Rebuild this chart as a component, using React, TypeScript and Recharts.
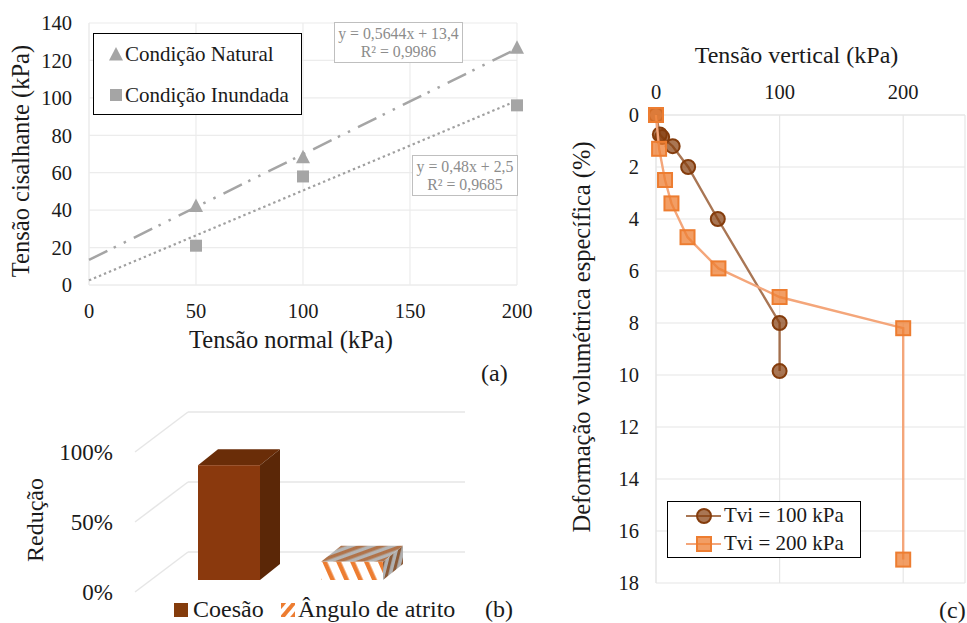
import React from "react";
import {
  ScatterChart,
  Scatter,
  BarChart,
  Bar,
  XAxis,
  YAxis,
  CartesianGrid,
  Legend,
} from "recharts";

const FONT = "'Liberation Serif', 'Times New Roman', serif";
const GRID = "#e6e6e6";
const TEXT = "#1a1a1a";

// (a) shear envelope
const naturalPoints = [
  { x: 50, y: 42 },
  { x: 100, y: 68 },
  { x: 200, y: 126.5 },
];
const floodedPoints = [
  { x: 50, y: 21 },
  { x: 100, y: 58 },
  { x: 200, y: 96 },
];
const naturalTrend = [
  { x: 0, y: 13.4 },
  { x: 200, y: 126.3 },
];
const floodedTrend = [
  { x: 0, y: 2.5 },
  { x: 200, y: 98.5 },
];
const shearXTicks = [0, 50, 100, 150, 200];
const shearYTicks = [0, 20, 40, 60, 80, 100, 120, 140];

// (b) reduction
const reductionNames = ["Coesão", "Ângulo de atrito"];
const reductionValues = [82, 13];
const reductionTicks = [0, 50, 100];
const reductionData = reductionNames.map((name, i) => ({ name, value: reductionValues[i] }));

// (c) collapse curves
const tvi100 = [
  { x: 0, y: 0 },
  { x: 3.1, y: 0.75 },
  { x: 5, y: 0.85 },
  { x: 13.5, y: 1.2 },
  { x: 26, y: 2 },
  { x: 50, y: 4 },
  { x: 100, y: 8 },
  { x: 100, y: 9.85 },
];
const tvi200 = [
  { x: 0, y: 0 },
  { x: 2.5, y: 1.3 },
  { x: 7.3, y: 2.5 },
  { x: 12.5, y: 3.4 },
  { x: 25.5, y: 4.7 },
  { x: 50.5, y: 5.9 },
  { x: 100, y: 7 },
  { x: 200, y: 8.2 },
  { x: 200, y: 17.1 },
];
const verticalXTicks = [0, 100, 200];
const verticalYTicks = [0, 2, 4, 6, 8, 10, 12, 14, 16, 18];

const tickStyle = { fontFamily: FONT, fontSize: 20.5, fill: TEXT };
const axisLabelStyle = { fontFamily: FONT, fontSize: 24, fill: TEXT };

const Triangle = ({ cx, cy }: any) => (
  <path d={`M${cx} ${cy - 8}L${cx + 7} ${cy + 5.5}L${cx - 7} ${cy + 5.5}Z`} fill="#a5a5a5" />
);
const Square = ({ cx, cy }: any) => (
  <rect x={cx - 6} y={cy - 6} width={12} height={12} fill="#a5a5a5" />
);
const NoDot = () => <g />;

const BrownDot = ({ cx, cy }: any) => (
  <circle cx={cx} cy={cy} r={7} fill="#843c0c" fillOpacity={0.7} stroke="#843c0c" strokeWidth={2} />
);
const OrangeDot = ({ cx, cy }: any) => (
  <rect
    x={cx - 7}
    y={cy - 7}
    width={14}
    height={14}
    fill="#ed7d31"
    fillOpacity={0.75}
    stroke="#ed7d31"
    strokeWidth={2}
  />
);

const ShearLegend = () => (
  <div
    style={{
      width: 207,
      height: 80,
      border: "1px solid #000",
      background: "#fff",
      fontFamily: FONT,
      fontSize: 21,
      color: TEXT,
      position: "relative",
    }}
  >
    <svg width={40} height={80} style={{ position: "absolute", left: 0, top: 0 }}>
      <Triangle cx={22} cy={21} />
      <Square cx={22} cy={61} />
    </svg>
    <span style={{ position: "absolute", left: 31, top: 8, whiteSpace: "nowrap" }}>Condição Natural</span>
    <span style={{ position: "absolute", left: 31, top: 49, whiteSpace: "nowrap" }}>Condição Inundada</span>
  </div>
);

const CurveLegend = () => (
  <div
    style={{
      width: 192,
      height: 55,
      border: "1px solid #000",
      background: "#fff",
      fontFamily: FONT,
      fontSize: 21,
      color: TEXT,
      position: "relative",
    }}
  >
    <svg width={60} height={55} style={{ position: "absolute", left: 0, top: 0 }}>
      <line x1={18} x2={53} y1={14} y2={14} stroke="#843c0c" strokeOpacity={0.7} strokeWidth={2} />
      <BrownDot cx={36} cy={14} />
      <line x1={18} x2={53} y1={42} y2={42} stroke="#f4a67a" strokeWidth={2} />
      <OrangeDot cx={36} cy={42} />
    </svg>
    <span style={{ position: "absolute", left: 56, top: 1, whiteSpace: "nowrap" }}>Tvi = 100 kPa</span>
    <span style={{ position: "absolute", left: 56, top: 29, whiteSpace: "nowrap" }}>Tvi = 200 kPa</span>
  </div>
);

const ReductionLegend = () => (
  <div style={{ position: "relative", width: 300, height: 26, fontFamily: FONT, fontSize: 24, color: TEXT }}>
    <span style={{ position: "absolute", left: 0, top: 7, width: 14, height: 14, background: "#843c0c" }} />
    <span style={{ position: "absolute", left: 19, top: 0, whiteSpace: "nowrap" }}>Coesão</span>
    <svg width={14} height={14} style={{ position: "absolute", left: 107, top: 7 }}>
      <defs>
        <pattern id="legendStripe" width={8} height={8} patternUnits="userSpaceOnUse" patternTransform="rotate(40)">
          <rect width={8} height={8} fill="#fff" />
          <rect width={4} height={8} fill="#ed7d31" />
        </pattern>
      </defs>
      <rect width={14} height={14} fill="url(#legendStripe)" />
    </svg>
    <span style={{ position: "absolute", left: 124, top: 0, whiteSpace: "nowrap" }}>Ângulo de atrito</span>
  </div>
);

// fake 3D depth of the Excel column chart
const BAR_DX = 20;
const BAR_DY = 16;
const FLOOR_SHIFT = 12;

const WallLine = ({ y1 }: any) => (
  <g>
    <line x1={135} y1={y1} x2={188} y2={y1 - 40} stroke={GRID} strokeWidth={1.5} />
    <line x1={188} y1={y1 - 40} x2={465} y2={y1 - 40} stroke={GRID} strokeWidth={1.5} />
  </g>
);

const WallTick = ({ y, payload }: any) => (
  <text x={113} y={y} textAnchor="end" dominantBaseline="central" fontFamily={FONT} fontSize={23} fill={TEXT}>
    {payload.value}%
  </text>
);

const Column3D = ({ x, y, width, height, index }: any) => {
  const top = y - FLOOR_SHIFT;
  const bottom = top + height;
  const right = x + width;
  const first = index === 0;
  return (
    <g>
      <path
        d={`M${x} ${top}L${x + BAR_DX} ${top - BAR_DY}L${right + BAR_DX} ${top - BAR_DY}L${right} ${top}Z`}
        fill={first ? "#6a2d08" : "url(#stripeTop)"}
      />
      <path
        d={`M${right} ${top}L${right + BAR_DX} ${top - BAR_DY}L${right + BAR_DX} ${bottom - BAR_DY}L${right} ${bottom}Z`}
        fill={first ? "#5b2707" : "url(#stripeSide)"}
      />
      <rect x={x} y={top} width={width} height={height} fill={first ? "#8a390d" : "url(#stripeFront)"} />
    </g>
  );
};

const boxStyle: React.CSSProperties = {
  position: "absolute",
  boxSizing: "border-box",
  border: "1px solid #bfbfbf",
  background: "#fff",
  color: "#8c8c8c",
  fontFamily: FONT,
  fontSize: 15.8,
  lineHeight: "18px",
  textAlign: "center",
  paddingTop: 2,
};

const captionStyle: React.CSSProperties = {
  position: "absolute",
  fontFamily: FONT,
  fontSize: 24,
  color: TEXT,
  lineHeight: "24px",
};

export default function App() {
  return (
    <div style={{ position: "absolute", left: 0, top: 0, width: 967, height: 623, background: "#fff", overflow: "hidden" }}>
      <div style={{ position: "absolute", left: 0, top: 0 }}>
        <ScatterChart width={540} height={390} margin={{ top: 23, right: 23, bottom: 0, left: 0 }}>
          <CartesianGrid stroke="#ececec" strokeWidth={1.2} />
          <XAxis
            type="number"
            dataKey="x"
            domain={[0, 200]}
            ticks={shearXTicks}
            height={105}
            tickLine={false}
            axisLine={{ stroke: "#ececec" }}
            tick={tickStyle}
            tickMargin={12}
            label={{ value: "Tensão normal (kPa)", position: "insideTop", offset: 46, dx: -12, style: { ...axisLabelStyle, fontSize: 24.5 } }}
          />
          <YAxis
            type="number"
            dataKey="y"
            domain={[0, 140]}
            ticks={shearYTicks}
            width={89}
            tickLine={false}
            axisLine={{ stroke: "#ececec" }}
            tick={tickStyle}
            tickMargin={11}
            label={{ value: "Tensão cisalhante (kPa)", angle: -90, position: "insideLeft", offset: 20, dy: 7, style: { ...axisLabelStyle, fontSize: 24.5, textAnchor: "middle" } }}
          />
          <Scatter
            data={naturalTrend}
            line={{ stroke: "#a5a5a5", strokeWidth: 2.5, strokeDasharray: "20.5 7 2.5 8.7 2.5 8.8" }}
            shape={NoDot}
            isAnimationActive={false}
          />
          <Scatter
            data={floodedTrend}
            line={{ stroke: "#a0a0a0", strokeWidth: 2.2, strokeDasharray: "2.4 3" }}
            shape={NoDot}
            isAnimationActive={false}
          />
          <Scatter data={naturalPoints} shape={Triangle} isAnimationActive={false} />
          <Scatter data={floodedPoints} shape={Square} isAnimationActive={false} />
          <Legend
            layout="vertical"
            align="center"
            verticalAlign="middle"
            content={<ShearLegend />}
            wrapperStyle={{ left: 93, top: 33, width: 209, height: 82 }}
          />
        </ScatterChart>
      </div>
      <div style={{ ...boxStyle, left: 334, top: 22, width: 129, height: 41 }}>
        y = 0,5644x + 13,4
        <br />
        R² = 0,9986
      </div>
      <div style={{ ...boxStyle, left: 412, top: 155, width: 106, height: 41 }}>
        y = 0,48x + 2,5
        <br />
        R² = 0,9685
      </div>
      <div style={{ ...captionStyle, left: 481, top: 361 }}>(a)</div>

      <div style={{ position: "absolute", left: 0, top: 400 }}>
        <BarChart width={530} height={223} data={reductionData} margin={{ top: 52, right: 117, bottom: 31, left: 0 }}>
          <defs>
            <pattern id="stripeFront" width={12.7} height={13} patternUnits="userSpaceOnUse" patternTransform="rotate(-24)">
              <rect width={12.7} height={13} fill="#fff" />
              <rect width={4.5} height={13} fill="#ed7d31" />
            </pattern>
            <pattern id="stripeTop" width={7} height={7} patternUnits="userSpaceOnUse" patternTransform="rotate(-20)">
              <rect width={7} height={7} fill="#b5b5b5" />
              <rect width={7} height={3.5} fill="#b0734a" />
            </pattern>
            <pattern id="stripeSide" width={6.5} height={6.5} patternUnits="userSpaceOnUse" patternTransform="rotate(14)">
              <rect width={6.5} height={6.5} fill="#b0b0b0" />
              <rect width={3} height={6.5} fill="#8a5a38" />
            </pattern>
          </defs>
          <CartesianGrid vertical={false} horizontal={WallLine} />
          <XAxis dataKey="name" hide />
          <YAxis
            type="number"
            domain={[0, 100]}
            ticks={reductionTicks}
            width={167}
            axisLine={false}
            tickLine={false}
            tick={<WallTick />}
            label={{ value: "Redução", angle: -90, position: "insideLeft", offset: 34, dy: -2, style: { ...axisLabelStyle, textAnchor: "middle" } }}
          />
          <Bar dataKey="value" barSize={62} shape={<Column3D />} isAnimationActive={false} />
          <Legend
            layout="vertical"
            align="center"
            verticalAlign="middle"
            content={<ReductionLegend />}
            wrapperStyle={{ left: 174, top: 196, width: 300, height: 26 }}
          />
        </BarChart>
      </div>
      <div style={{ ...captionStyle, left: 485, top: 597 }}>(b)</div>

      <div style={{ position: "absolute", left: 560, top: 0 }}>
        <ScatterChart width={407} height={623} margin={{ top: 0, right: 2, bottom: 40, left: 0 }}>
          <CartesianGrid stroke={GRID} strokeWidth={1.2} />
          <XAxis
            type="number"
            dataKey="x"
            orientation="top"
            domain={[0, 250]}
            ticks={verticalXTicks}
            height={115}
            tickLine={false}
            axisLine={{ stroke: GRID }}
            tick={tickStyle}
            tickMargin={10}
            label={{ value: "Tensão vertical (kPa)", position: "insideTop", offset: 46, dx: -14, style: axisLabelStyle }}
          />
          <YAxis
            type="number"
            dataKey="y"
            reversed
            domain={[0, 18]}
            ticks={verticalYTicks}
            width={96}
            tickLine={false}
            axisLine={{ stroke: GRID }}
            tick={tickStyle}
            tickMargin={11}
            label={{ value: "Deformação volumétrica específica (%)", angle: -90, position: "insideLeft", offset: 21, dy: -12, style: { ...axisLabelStyle, fontSize: 24.5, textAnchor: "middle" } }}
          />
          <Scatter
            data={tvi100}
            line={{ stroke: "#843c0c", strokeOpacity: 0.7, strokeWidth: 2.4 }}
            shape={BrownDot}
            isAnimationActive={false}
          />
          <Scatter
            data={tvi200}
            line={{ stroke: "#f4a67a", strokeWidth: 2.4 }}
            shape={OrangeDot}
            isAnimationActive={false}
          />
          <Legend
            layout="vertical"
            align="center"
            verticalAlign="middle"
            content={<CurveLegend />}
            wrapperStyle={{ left: 107, top: 501, width: 194, height: 57 }}
          />
        </ScatterChart>
      </div>
      <div style={{ ...captionStyle, left: 939, top: 598 }}>(c)</div>
    </div>
  );
}
